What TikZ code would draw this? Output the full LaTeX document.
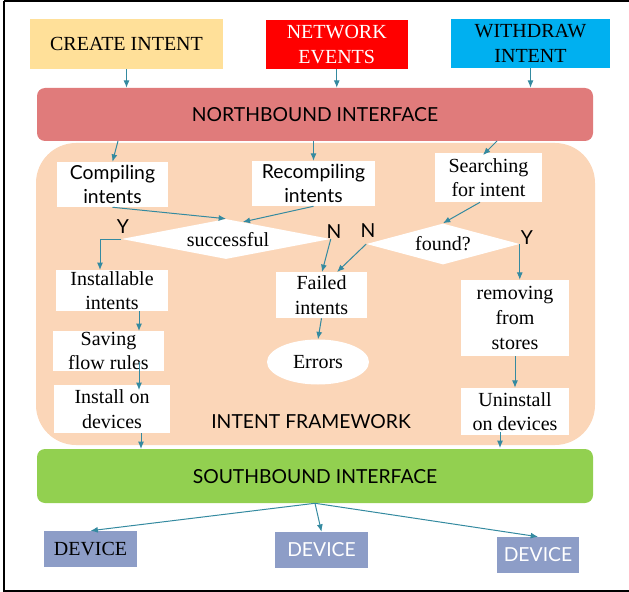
\documentclass[tikz,border=0pt]{standalone}
\usepackage{fontspec}
\setmainfont{Liberation Serif}
\newfontfamily\gillfont{Lato}
\usetikzlibrary{arrows.meta,shapes.geometric,fit,calc}
\definecolor{createc}{RGB}{255,224,153}
\definecolor{netc}{RGB}{255,0,0}
\definecolor{withc}{RGB}{0,176,240}
\definecolor{northc}{RGB}{224,123,123}
\definecolor{fwc}{RGB}{251,214,184}
\definecolor{southc}{RGB}{146,208,80}
\definecolor{devc}{RGB}{141,157,199}
\definecolor{arrc}{RGB}{52,138,160}
\begin{document}
\begin{tikzpicture}[x=0.75pt,y=-0.75pt,
  serif/.style={font=\fontsize{15}{18.5}\selectfont},
  sans/.style={font=\gillfont\fontsize{14.5}{17.5}\selectfont},
  boxn/.style={inner sep=0pt,align=center},
  whitebox/.style={boxn,fill=white},
  diam/.style={diamond,fill=white,inner sep=0pt,aspect=1},
  arr/.style={draw=arrc,line width=0.75pt,-{Latex[length=5.5pt,width=4.5pt]}},
  lbl/.style={sans,inner sep=0pt}]
\useasboundingbox (0,0) rectangle (629,592);
% outer frame
\draw[line width=1.5pt] (3.5,1) -- (3.5,591) -- (640,591);
\draw[line width=1.5pt] (3.5,1) -- (640,1);

% framework background
\fill[fwc,rounded corners=30pt] (36,143) rectangle (595,445);
\node[sans] (fwlabel) at (311,422) {INTENT FRAMEWORK};

% inputs
\node[boxn,serif,fill=createc,fit={(30,19) (223,69)}] (create) {};
\node[serif] at (create.center) {CREATE INTENT};
\node[boxn,serif,fill=netc,fit={(265.5,20) (408,69)}] (network) {};
\node[serif,text=white,align=center] at (network.center) {NETWORK\\EVENTS};
\node[boxn,serif,fill=withc,fit={(451,19) (610,68)}] (withdraw) {};
\node[serif,align=center] at (withdraw.center) {WITHDRAW\\INTENT};

% interfaces
\node[boxn,fill=northc,rounded corners=6pt,fit={(37,88) (593,141)}] (north) {};
\node[sans] at (315,115) {NORTHBOUND INTERFACE};
\node[boxn,fill=southc,rounded corners=6pt,fit={(37,449) (593,503)}] (south) {};
\node[sans] at (315,477) {SOUTHBOUND INTERFACE};

% steps
\node[whitebox,fit={(57,162) (168,207)}] (compiling) {};
\node[sans,align=center] at (compiling.center) {Compiling\\intents};
\node[whitebox,fit={(252,161) (375,206)}] (recompiling) {};
\node[sans,align=center] at (recompiling.center) {Recompiling\\intents};
\node[whitebox,fit={(435,153) (542,202)}] (searching) {};
\node[serif,align=center] at (searching.center) {Searching\\for intent};

\node[diam,minimum width=209*0.75pt,minimum height=40*0.75pt,
  shape aspect=5.2] (successful) at (226,239) {};
\node[serif] at (228,240) {successful};
\node[diam,minimum width=153*0.75pt,minimum height=41*0.75pt,
  shape aspect=3.7] (found) at (443,244) {};
\node[serif] at (443,244) {found?};

\node[whitebox,fit={(56,270) (168,311)}] (installable) {};
\node[serif,align=center] at (installable.center) {Installable\\intents};
\node[whitebox,fit={(276,272) (367,318)}] (failed) {};
\node[serif,align=center] at (failed.center) {Failed\\intents};
\node[ellipse,fill=white,minimum width=102*0.75pt,minimum height=45*0.75pt,
  inner sep=0pt] (errors) at (318,362) {};
\node[serif] at (errors.center) {Errors};
\node[whitebox,fit={(461,280) (569,356)}] (removing) {};
\node[serif,align=center] at (removing.center) {removing\\from\\stores};
\node[whitebox,fit={(53,331) (164,371)}] (saving) {};
\node[serif,align=center] at (saving.center) {Saving\\flow rules};
\node[whitebox,fit={(54,385) (170,433)}] (install) {};
\node[serif,align=center] at (install.center) {Install on\\devices};
\node[whitebox,fit={(461,388) (569,435)}] (uninstall) {};
\node[serif,align=center] at (uninstall.center) {Uninstall\\on devices};

% devices
\node[boxn,fill=devc,fit={(44,531) (137,567)}] (dev1) {};
\node[serif] at (dev1.center) {DEVICE};
\node[boxn,fill=devc,fit={(275,532) (368,568)}] (dev2) {};
\node[sans,text=white] at (dev2.center) {DEVICE};
\node[boxn,fill=devc,fit={(497,537) (579,573)}] (dev3) {};
\node[sans,text=white] at (dev3.center) {DEVICE};

% decision labels
\node[lbl] (y1) at (123,227) {Y};
\node[lbl] (n1) at (334,232) {N};
\node[lbl] (n2) at (368,231) {N};
\node[lbl] (y2) at (527,238) {Y};

% helper points
\coordinate (nbc) at (118,141);
\coordinate (nbs) at (497,141);
\coordinate (srch) at (483,155);
\coordinate (srb) at (480,207);
\coordinate (yturn) at (100,239);
\coordinate (instin) at (100,270);
\coordinate (failtopn) at (337,272);
\coordinate (failtops) at (322,272);
\coordinate (sav1) at (139,311);
\coordinate (sav2) at (139,331);
\coordinate (ins1) at (139,362);
\coordinate (ins2) at (139,390);
\coordinate (ins3) at (141,433);
\coordinate (ins4) at (141,449);
\coordinate (uni1) at (500,432);
\coordinate (uni2) at (500,448);

% connectors
\draw[arr] (create.south) -- (create.south |- north.north);
\draw[arr] (network.south) -- (network.south |- north.north);
\draw[arr] (withdraw.south) -- (withdraw.south |- north.north);
\draw[arr] (nbc) -- (compiling.north);
\draw[arr] (recompiling.north |- north.south) -- (recompiling.north);
\draw[arr] (nbs) -- (srch);
\draw[arr] (compiling.south) -- (successful.north);
\draw[arr] (recompiling.south) -- ($(successful.north)!0.16!(successful.east)$);
\draw[arr] (searching.south -| srb) -- (found.north);
\draw[arr] (successful.west) -- (yturn) -- (instin);
\draw[arr] (successful.east) -- (failtops);
\draw[arr] (found.west) -- (failtopn);
\draw[arr] (found.east) -- (found.east |- removing.north);
\draw[arr] (sav1) -- (sav2);
\draw[arr] (ins1) -- (ins2);
\draw[arr] (ins3) -- (ins4);
\draw[arr] (failed.south) -- (errors.north);
\draw[arr] (removing.south) -- (uninstall.north);
\draw[arr] (uni1) -- (uni2);
\draw[arr] (south.south) -- (dev1.north);
\draw[arr] (south.south) -- (dev2.north);
\draw[arr] (south.south) -- (dev3.north);
\end{tikzpicture}
\end{document}
